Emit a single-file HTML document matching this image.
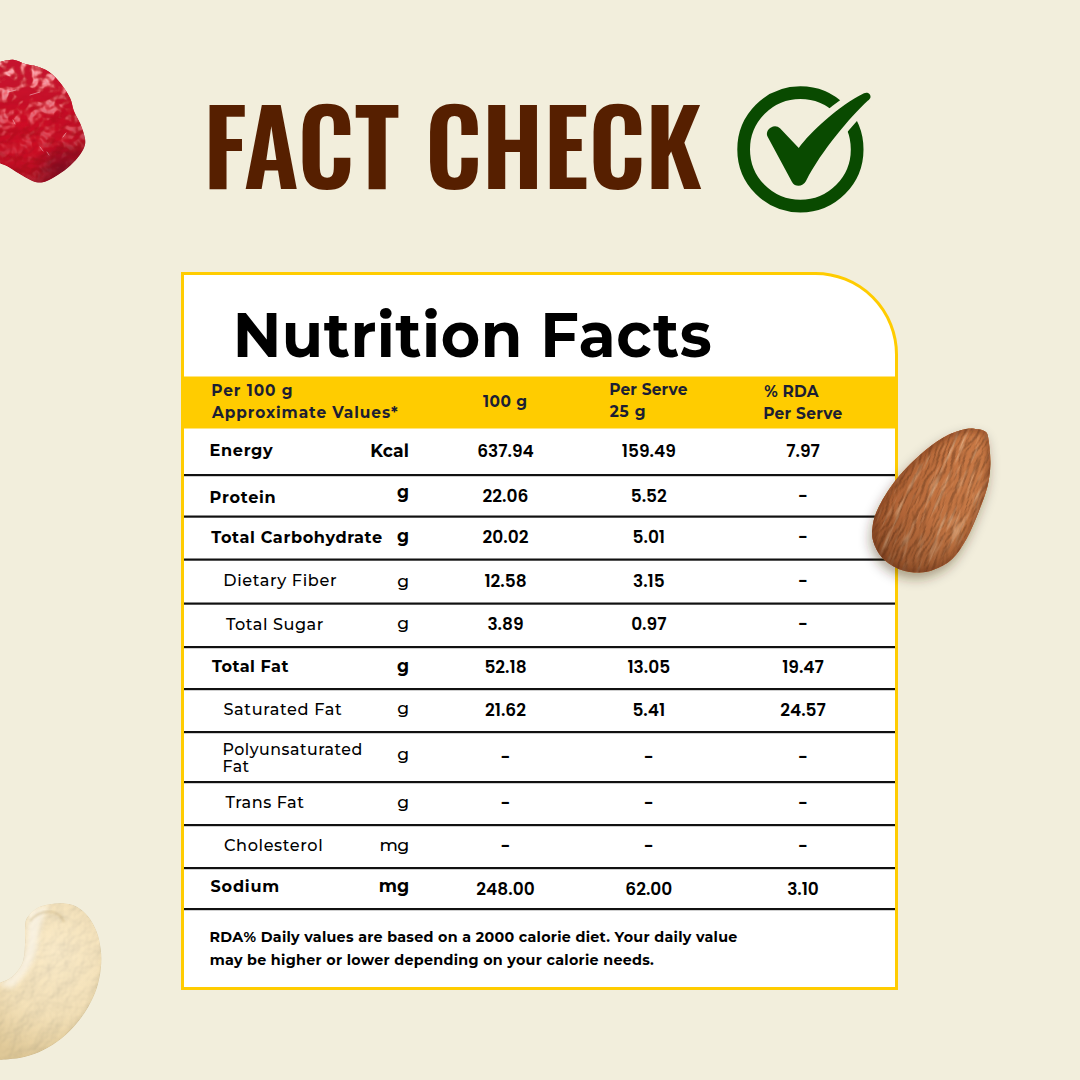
<!DOCTYPE html>
<html lang="en"><head><meta charset="utf-8"><title>Fact Check - Nutrition Facts</title>
<style>
html,body{margin:0;padding:0;background:#F2EEDC;}
body{width:1080px;height:1080px;overflow:hidden;position:relative;}
svg{position:absolute;left:0;top:0;display:block;}
text{font-kerning:normal;}
</style></head><body>
<svg width="1080" height="1080" viewBox="0 0 1080 1080">
<rect x="0" y="0" width="1080" height="1080" fill="#F2EEDC"/>
<text id="title" x="203.30" y="189" font-family="Oswald, 'Liberation Sans Narrow', 'Liberation Sans', sans-serif" font-size="103" font-weight="600" fill="#561F00" text-anchor="start" letter-spacing="-0.13" textLength="498.750" lengthAdjust="spacingAndGlyphs" style="font-size-adjust:cap-height 0.81">FACT CHECK</text>
<g id="check"><circle cx="800.4" cy="149.4" r="56.75" fill="none" stroke="#094A00" stroke-width="12.7"/>
<path d="M767.5 136.5 C766 133 767.5 129.5 771 127.5 C774 125.5 777.5 125.8 780 128.3 L798.75 148 C811 131.5 838.5 106 864 93.3 C867.5 91.6 871 94.2 870.5 97.2 C870.2 98.6 869.2 99.6 868 100.6 C850 117.4 822 150 806 181 C803 187 795 187.5 792 182 Z" fill="#F2EEDC" stroke="#F2EEDC" stroke-width="13" stroke-linejoin="round"/>
<path d="M767.5 136.5 C766 133 767.5 129.5 771 127.5 C774 125.5 777.5 125.8 780 128.3 L798.75 148 C811 131.5 838.5 106 864 93.3 C867.5 91.6 871 94.2 870.5 97.2 C870.2 98.6 869.2 99.6 868 100.6 C850 117.4 822 150 806 181 C803 187 795 187.5 792 182 Z" fill="#094A00"/></g>
<defs>
<radialGradient id="gCran" gradientUnits="userSpaceOnUse" cx="28" cy="118" r="78">
 <stop offset="0" stop-color="#D01022"/><stop offset="0.6" stop-color="#BC0B20"/><stop offset="1" stop-color="#86061A"/>
</radialGradient>
<linearGradient id="gCranHi" gradientUnits="userSpaceOnUse" x1="0" y1="58" x2="0" y2="118">
 <stop offset="0" stop-color="#EE6E78" stop-opacity="0.85"/><stop offset="0.55" stop-color="#E03A48" stop-opacity="0.5"/><stop offset="1" stop-color="#D01022" stop-opacity="0"/>
</linearGradient>
<radialGradient id="gCranDk" gradientUnits="userSpaceOnUse" cx="62" cy="170" r="30">
 <stop offset="0" stop-color="#5A0820" stop-opacity="0.55"/><stop offset="1" stop-color="#5A0820" stop-opacity="0"/>
</radialGradient>
<radialGradient id="gAlm" gradientUnits="userSpaceOnUse" cx="950" cy="475" r="105">
 <stop offset="0" stop-color="#BE6F38"/><stop offset="0.55" stop-color="#AD5E2A"/><stop offset="1" stop-color="#84421C"/>
</radialGradient>
<linearGradient id="gAlmFlat" gradientUnits="userSpaceOnUse" x1="870" y1="0" x2="995" y2="0">
 <stop offset="0" stop-color="#A2582D"/><stop offset="0.5" stop-color="#BA6E3E"/><stop offset="1" stop-color="#C27846"/>
</linearGradient>
<linearGradient id="gAlmShade" gradientUnits="userSpaceOnUse" x1="975" y1="435" x2="905" y2="575">
 <stop offset="0" stop-color="#5A2A10" stop-opacity="0"/><stop offset="0.6" stop-color="#5A2A10" stop-opacity="0.08"/><stop offset="1" stop-color="#4A200A" stop-opacity="0.45"/>
</linearGradient>
<radialGradient id="gCash" gradientUnits="userSpaceOnUse" cx="55" cy="950" r="110">
 <stop offset="0" stop-color="#F1E5C8"/><stop offset="0.6" stop-color="#EADBB7"/><stop offset="1" stop-color="#D8C599"/>
</radialGradient>
<filter id="fShadow" x="-30%" y="-30%" width="160%" height="160%">
 <feDropShadow dx="-2" dy="6" stdDeviation="6" flood-color="#3a2a10" flood-opacity="0.4"/>
</filter>
<filter id="fTexA" x="-10%" y="-10%" width="120%" height="120%">
 <feTurbulence type="fractalNoise" baseFrequency="0.22 0.03" numOctaves="3" seed="4" result="n"/>
 <feColorMatrix in="n" type="matrix" values="0 0 0 0 0.86  0 0 0 0 0.58  0 0 0 0 0.36  0 0 0 2.4 -1.25" result="c"/>
 <feComposite in="c" in2="SourceGraphic" operator="in"/>
</filter>
<filter id="fTexAd" x="-10%" y="-10%" width="120%" height="120%">
 <feTurbulence type="fractalNoise" baseFrequency="0.2 0.035" numOctaves="3" seed="9" result="n"/>
 <feColorMatrix in="n" type="matrix" values="0 0 0 0 0.45  0 0 0 0 0.2  0 0 0 0 0.08  0 0 0 3.2 -1.35" result="c"/>
 <feComposite in="c" in2="SourceGraphic" operator="in"/>
</filter>
<filter id="fTexC" x="-10%" y="-10%" width="120%" height="120%">
 <feTurbulence type="fractalNoise" baseFrequency="0.16" numOctaves="3" seed="7" result="n"/>
 <feColorMatrix in="n" type="matrix" values="0 0 0 0 0.80  0 0 0 0 0.70  0 0 0 0 0.48  0 0 0 2.0 -0.95" result="c"/>
 <feComposite in="c" in2="SourceGraphic" operator="in"/>
</filter>
<filter id="fTexR" x="-10%" y="-10%" width="120%" height="120%">
 <feTurbulence type="fractalNoise" baseFrequency="0.09" numOctaves="2" seed="11" result="n"/>
 <feColorMatrix in="n" type="matrix" values="0 0 0 0 0.62  0 0 0 0 0.03  0 0 0 0 0.10  0 0 0 2.0 -0.95" result="c"/>
 <feComposite in="c" in2="SourceGraphic" operator="in"/>
</filter>
<filter id="fBumpC" x="-5%" y="-5%" width="110%" height="110%">
 <feTurbulence type="fractalNoise" baseFrequency="0.06" numOctaves="3" seed="5" result="n"/>
 <feDiffuseLighting in="n" surfaceScale="3.5" diffuseConstant="1.0" lighting-color="#FFF2DC" result="l">
  <feDistantLight azimuth="225" elevation="55"/>
 </feDiffuseLighting>
 <feComposite in="l" in2="SourceGraphic" operator="arithmetic" k1="0.34" k2="0" k3="0.76" k4="0"/>
</filter>
<filter id="fBumpA" x="-5%" y="-5%" width="110%" height="110%">
 <feTurbulence type="fractalNoise" baseFrequency="0.3 0.045" numOctaves="3" seed="8" result="n0"/>
 <feTurbulence type="fractalNoise" baseFrequency="0.035" numOctaves="1" seed="2" result="w"/>
 <feDisplacementMap in="n0" in2="w" scale="14" xChannelSelector="R" yChannelSelector="G" result="n"/>
 <feDiffuseLighting in="n" surfaceScale="5" diffuseConstant="1.1" lighting-color="#fff" result="l">
  <feDistantLight azimuth="0" elevation="45"/>
 </feDiffuseLighting>
 <feComposite in="l" in2="SourceGraphic" operator="arithmetic" k1="0.5" k2="0" k3="0.66" k4="0"/>
</filter>
<filter id="fBumpR" x="-5%" y="-5%" width="110%" height="110%">
 <feTurbulence type="fractalNoise" baseFrequency="0.06" numOctaves="3" seed="12" result="n"/>
 <feDiffuseLighting in="n" surfaceScale="6" diffuseConstant="1.0" lighting-color="#fff" result="l">
  <feDistantLight azimuth="250" elevation="50"/>
 </feDiffuseLighting>
 <feComposite in="l" in2="SourceGraphic" operator="arithmetic" k1="0.4" k2="0" k3="0.72" k4="0"/>
</filter>
<filter id="fCranSpec" x="-5%" y="-5%" width="110%" height="110%">
 <feTurbulence type="fractalNoise" baseFrequency="0.042" numOctaves="3" seed="21" result="n"/>
 <feSpecularLighting in="n" surfaceScale="8" specularConstant="1.2" specularExponent="22" lighting-color="#FFD2D6" result="s">
  <feDistantLight azimuth="235" elevation="35"/>
 </feSpecularLighting>
 <feComposite in="s" in2="SourceAlpha" operator="in" result="s2"/>
 <feComposite in="s2" in2="SourceGraphic" operator="arithmetic" k1="0" k2="0.75" k3="1" k4="0"/>
</filter>
<linearGradient id="gCranMask" gradientUnits="userSpaceOnUse" x1="0" y1="60" x2="0" y2="185">
 <stop offset="0" stop-color="#fff" stop-opacity="1"/><stop offset="0.4" stop-color="#fff" stop-opacity="0.6"/><stop offset="0.7" stop-color="#fff" stop-opacity="0.2"/><stop offset="1" stop-color="#fff" stop-opacity="0.1"/>
</linearGradient>
<mask id="mCran" maskUnits="userSpaceOnUse" x="-30" y="40" width="150" height="160"><rect x="-30" y="40" width="150" height="160" fill="url(#gCranMask)"/></mask>
<filter id="fBlur1"><feGaussianBlur stdDeviation="1.2"/></filter>
<filter id="fBlur2"><feGaussianBlur stdDeviation="2.5"/></filter>
<clipPath id="cpCran"><path d="M-20 62.5 L-2.0 62.5 C0.5 62.0 8.4 59.4 13.0 59.7 C17.6 60.0 22.0 63.2 25.9 64.3 C29.8 65.4 32.4 64.9 36.3 66.2 C40.2 67.5 45.1 69.1 49.2 72.0 C53.3 74.9 57.4 79.4 60.9 83.7 C64.4 88.0 67.8 93.5 70.0 98.0 C72.2 102.5 72.2 106.6 73.9 110.9 C75.6 115.2 78.6 119.4 80.4 123.9 C82.2 128.4 84.3 134.2 84.9 138.1 C85.5 142.0 85.4 143.9 84.2 147.2 C83.0 150.4 80.6 154.1 77.8 157.6 C75.0 161.1 71.3 164.8 67.4 168.0 C63.5 171.2 58.5 174.6 54.4 177.0 C50.3 179.4 46.5 181.5 42.8 182.2 C39.1 182.8 36.5 182.4 32.4 180.9 C28.3 179.4 22.2 175.5 18.1 173.1 C14.0 170.7 11.2 168.4 7.8 166.6 C4.4 164.8 -0.4 163.2 -2.0 162.5 L-20 162.5 Z"/></clipPath>
<clipPath id="cpCash"><path d="M-20 983.6 L-2.0 983.6 C0.0 982.7 6.6 980.6 10.0 978.3 C13.4 976.0 16.1 973.0 18.3 970.0 C20.5 967.0 22.2 964.2 23.3 960.0 C24.4 955.8 24.7 949.7 25.0 945.0 C25.3 940.3 24.9 935.6 25.0 931.7 C25.1 927.8 24.8 924.5 25.5 921.7 C26.2 918.9 27.1 917.4 29.2 915.0 C31.3 912.6 34.8 909.3 38.3 907.5 C41.8 905.7 45.8 904.9 50.0 904.2 C54.2 903.5 58.8 902.9 63.3 903.3 C67.8 903.7 72.5 904.5 76.7 906.7 C80.9 908.9 85.0 912.5 88.3 916.7 C91.6 920.9 94.6 926.2 96.7 931.7 C98.8 937.2 100.1 943.9 100.8 950.0 C101.5 956.1 101.5 961.9 100.8 968.3 C100.1 974.7 98.8 981.9 96.7 988.3 C94.6 994.7 91.6 1000.9 88.3 1006.7 C85.0 1012.5 81.1 1018.0 76.7 1023.3 C72.3 1028.6 67.3 1033.8 61.7 1038.3 C56.1 1042.8 49.4 1046.9 43.3 1050.0 C37.2 1053.1 30.8 1055.2 25.0 1056.7 C19.2 1058.2 12.8 1058.7 8.3 1059.2 C3.8 1059.7 -0.3 1059.7 -2.0 1059.8 L-20 1059.8 Z"/></clipPath>
<clipPath id="cpAlm"><path d="M975.6 428.9 C979.3 429.3 983.7 429.7 985.9 431.9 C988.1 434.1 988.1 436.8 988.9 442.2 C989.6 447.6 990.6 457.0 990.4 464.4 C990.1 471.8 989.4 478.8 987.4 486.7 C985.4 494.6 982.0 503.3 978.5 511.9 C975.0 520.5 971.1 530.6 966.7 538.5 C962.3 546.4 957.3 554.1 951.9 559.3 C946.5 564.5 939.5 567.4 934.1 569.6 C928.7 571.8 925.0 572.6 919.3 572.6 C913.6 572.6 906.2 572.1 900.0 569.6 C893.8 567.1 886.7 562.5 882.2 557.8 C877.8 553.1 874.9 546.7 873.3 541.5 C871.7 536.3 871.9 532.1 872.6 526.7 C873.4 521.3 874.2 516.3 877.8 508.9 C881.4 501.5 887.2 491.1 894.1 482.2 C901.0 473.3 911.1 463.0 919.3 455.6 C927.4 448.2 935.6 442.1 943.0 437.8 C950.4 433.5 958.3 431.1 963.7 429.6 C969.1 428.1 971.9 428.5 975.6 428.9 Z"/></clipPath>
</defs>
<path d="M-20 62.5 L-2.0 62.5 C0.5 62.0 8.4 59.4 13.0 59.7 C17.6 60.0 22.0 63.2 25.9 64.3 C29.8 65.4 32.4 64.9 36.3 66.2 C40.2 67.5 45.1 69.1 49.2 72.0 C53.3 74.9 57.4 79.4 60.9 83.7 C64.4 88.0 67.8 93.5 70.0 98.0 C72.2 102.5 72.2 106.6 73.9 110.9 C75.6 115.2 78.6 119.4 80.4 123.9 C82.2 128.4 84.3 134.2 84.9 138.1 C85.5 142.0 85.4 143.9 84.2 147.2 C83.0 150.4 80.6 154.1 77.8 157.6 C75.0 161.1 71.3 164.8 67.4 168.0 C63.5 171.2 58.5 174.6 54.4 177.0 C50.3 179.4 46.5 181.5 42.8 182.2 C39.1 182.8 36.5 182.4 32.4 180.9 C28.3 179.4 22.2 175.5 18.1 173.1 C14.0 170.7 11.2 168.4 7.8 166.6 C4.4 164.8 -0.4 163.2 -2.0 162.5 L-20 162.5 Z" fill="url(#gCran)" filter="url(#fBumpR)"/>
<g clip-path="url(#cpCran)">
<path d="M-6.0 58.0 C-1.7 48.0 11.5 56.3 20.0 58.0 C28.5 59.7 37.3 63.0 45.0 68.0 C52.7 73.0 61.2 81.3 66.0 88.0 C70.8 94.7 75.0 103.3 74.0 108.0 C73.0 112.7 65.7 115.3 60.0 116.0 C54.3 116.7 46.7 112.3 40.0 112.0 C33.3 111.7 27.7 113.0 20.0 114.0 C12.3 115.0 -1.7 127.3 -6.0 118.0 C-10.3 108.7 -10.3 68.0 -6.0 58.0 Z" fill="url(#gCranHi)" opacity="0.8" filter="url(#fBlur2)"/>
<g mask="url(#mCran)"><rect x="-5" y="55" width="100" height="135" fill="#C4102A" filter="url(#fCranSpec)" opacity="0.9"/></g>
<g stroke="#FCE4E8" stroke-width="0.9" fill="none" opacity="0.55" stroke-linecap="round"><path d="M13 120 L15 124"/><path d="M40 147 L43 151"/><path d="M47 152 L49 155"/><path d="M63 137 L66 133"/><path d="M30 95 L40 92"/><path d="M8 92 L16 90"/></g>
<rect x="0" y="120" width="100" height="70" fill="url(#gCranDk)"/>
</g>

<path d="M-20 983.6 L-2.0 983.6 C0.0 982.7 6.6 980.6 10.0 978.3 C13.4 976.0 16.1 973.0 18.3 970.0 C20.5 967.0 22.2 964.2 23.3 960.0 C24.4 955.8 24.7 949.7 25.0 945.0 C25.3 940.3 24.9 935.6 25.0 931.7 C25.1 927.8 24.8 924.5 25.5 921.7 C26.2 918.9 27.1 917.4 29.2 915.0 C31.3 912.6 34.8 909.3 38.3 907.5 C41.8 905.7 45.8 904.9 50.0 904.2 C54.2 903.5 58.8 902.9 63.3 903.3 C67.8 903.7 72.5 904.5 76.7 906.7 C80.9 908.9 85.0 912.5 88.3 916.7 C91.6 920.9 94.6 926.2 96.7 931.7 C98.8 937.2 100.1 943.9 100.8 950.0 C101.5 956.1 101.5 961.9 100.8 968.3 C100.1 974.7 98.8 981.9 96.7 988.3 C94.6 994.7 91.6 1000.9 88.3 1006.7 C85.0 1012.5 81.1 1018.0 76.7 1023.3 C72.3 1028.6 67.3 1033.8 61.7 1038.3 C56.1 1042.8 49.4 1046.9 43.3 1050.0 C37.2 1053.1 30.8 1055.2 25.0 1056.7 C19.2 1058.2 12.8 1058.7 8.3 1059.2 C3.8 1059.7 -0.3 1059.7 -2.0 1059.8 L-20 1059.8 Z" fill="url(#gCash)" filter="url(#fBumpC)"/>
<g clip-path="url(#cpCash)">
<path d="M-2 985 C12 978 22 966 26 948 C28 935 26 922 30 914 C36 908 44 905 50 905 C44 912 40 925 38 940 C36 958 28 975 12 988 Z" fill="#FBF6EA" opacity="0.75" filter="url(#fBlur2)"/>
<path d="M30 921 C36 914 44 911 52 912 C58 913 62 917 64 922" fill="none" stroke="#C8B283" stroke-width="1.6" opacity="0.7" filter="url(#fBlur1)"/>
<path d="M27 912 C30 906 36 903 42 904 C38 908 33 912 30 918 Z" fill="#FBF5E6" opacity="0.7" filter="url(#fBlur1)"/>
<path d="M104 950 C104 990 85 1025 55 1045 C35 1058 10 1062 -5 1062 L-5 1075 L120 1075 L120 940 Z" fill="#C9B27E" opacity="0.55" filter="url(#fBlur2)"/>
</g>

<path d="M182.5 273.5 H815.5 A81 81 0 0 1 896.5 354.5 V988.5 H182.5 Z" fill="#fff" stroke="#FFCC00" stroke-width="3"/>
<rect x="184" y="376.5" width="711" height="52" fill="#FFCC00"/>
<text id="nf" x="232.65" y="356.9" font-family="Montserrat, 'Liberation Sans', sans-serif" font-size="61" font-weight="700" fill="#000" text-anchor="start" letter-spacing="0.52" transform="matrix(1 0 0 1.026 0 -9.279)" textLength="479.492" lengthAdjust="spacingAndGlyphs" style="font-size-adjust:cap-height 0.7">Nutrition Facts</text>
<text id="h_per100" x="211.23" y="396.4" font-family="Montserrat, 'Liberation Sans', sans-serif" font-size="15.4" font-weight="700" fill="#1C1E33" text-anchor="start" letter-spacing="0.92" textLength="82.141" lengthAdjust="spacingAndGlyphs" style="font-size-adjust:cap-height 0.7">Per 100 g</text>
<text id="h_approx" x="212.09" y="417.7" font-family="Montserrat, 'Liberation Sans', sans-serif" font-size="15.4" font-weight="700" fill="#1C1E33" text-anchor="start" letter-spacing="0.91" textLength="186.516" lengthAdjust="spacingAndGlyphs" style="font-size-adjust:cap-height 0.7">Approximate Values*</text>
<text id="h_100g" x="483.07" y="406.8" font-family="Montserrat, 'Liberation Sans', sans-serif" font-size="15.4" font-weight="700" fill="#1C1E33" text-anchor="start" letter-spacing="0.45" textLength="44.328" lengthAdjust="spacingAndGlyphs" style="font-size-adjust:cap-height 0.7">100 g</text>
<text id="h_ps1" x="609.13" y="394.8" font-family="Montserrat, 'Liberation Sans', sans-serif" font-size="15.4" font-weight="700" fill="#1C1E33" text-anchor="start" letter-spacing="0.18" textLength="78.500" lengthAdjust="spacingAndGlyphs" style="font-size-adjust:cap-height 0.7">Per Serve</text>
<text id="h_25g" x="609.64" y="417.0" font-family="Montserrat, 'Liberation Sans', sans-serif" font-size="15.4" font-weight="700" fill="#1C1E33" text-anchor="start" letter-spacing="0.86" textLength="36.812" lengthAdjust="spacingAndGlyphs" style="font-size-adjust:cap-height 0.7">25 g</text>
<text id="h_rda" x="764.14" y="396.8" font-family="Montserrat, 'Liberation Sans', sans-serif" font-size="15.4" font-weight="700" fill="#1C1E33" text-anchor="start" letter-spacing="0.20" textLength="54.516" lengthAdjust="spacingAndGlyphs" style="font-size-adjust:cap-height 0.7">% RDA</text>
<text id="h_ps2" x="763.19" y="419.4" font-family="Montserrat, 'Liberation Sans', sans-serif" font-size="15.4" font-weight="700" fill="#1C1E33" text-anchor="start" letter-spacing="0.28" textLength="79.406" lengthAdjust="spacingAndGlyphs" style="font-size-adjust:cap-height 0.7">Per Serve</text>
<rect x="184" y="474" width="711" height="2.2" fill="#111"/>
<rect x="184" y="515.5" width="711" height="2.2" fill="#111"/>
<rect x="184" y="558.5" width="711" height="2.2" fill="#111"/>
<rect x="184" y="602.5" width="711" height="2.2" fill="#111"/>
<rect x="184" y="646" width="711" height="2.2" fill="#111"/>
<rect x="184" y="688" width="711" height="2.2" fill="#111"/>
<rect x="184" y="731" width="711" height="2.2" fill="#111"/>
<rect x="184" y="781" width="711" height="2.2" fill="#111"/>
<rect x="184" y="824" width="711" height="2.2" fill="#111"/>
<rect x="184" y="867" width="711" height="2.2" fill="#111"/>
<rect x="184" y="908" width="711" height="2.2" fill="#111"/>
<text id="l_energy" x="209.62" y="456.1" font-family="Montserrat, 'Liberation Sans', sans-serif" font-size="16.1" font-weight="700" fill="#000" text-anchor="start" letter-spacing="0.64" textLength="63.672" lengthAdjust="spacingAndGlyphs" style="font-size-adjust:cap-height 0.7">Energy</text>
<text id="u_energy" x="370.28" y="457.4" font-family="Montserrat, 'Liberation Sans', sans-serif" font-size="17.2" font-weight="700" fill="#000" text-anchor="start" letter-spacing="0.13" textLength="38.812" lengthAdjust="spacingAndGlyphs" style="font-size-adjust:cap-height 0.7">Kcal</text>
<text id="n_energy0" x="505.50" y="457.0" font-family="Poppins, 'Liberation Sans', sans-serif" font-size="17" font-weight="600" fill="#000" text-anchor="middle" textLength="56.641" lengthAdjust="spacingAndGlyphs" style="font-size-adjust:cap-height 0.701">637.94</text>
<text id="n_energy1" x="648.80" y="457.0" font-family="Poppins, 'Liberation Sans', sans-serif" font-size="17" font-weight="600" fill="#000" text-anchor="middle" textLength="54.000" lengthAdjust="spacingAndGlyphs" style="font-size-adjust:cap-height 0.701">159.49</text>
<text id="n_energy2" x="803.00" y="457.0" font-family="Poppins, 'Liberation Sans', sans-serif" font-size="17" font-weight="600" fill="#000" text-anchor="middle" textLength="33.672" lengthAdjust="spacingAndGlyphs" style="font-size-adjust:cap-height 0.701">7.97</text>
<text id="l_protein" x="209.62" y="502.5" font-family="Montserrat, 'Liberation Sans', sans-serif" font-size="16.1" font-weight="700" fill="#000" text-anchor="start" letter-spacing="0.72" textLength="66.859" lengthAdjust="spacingAndGlyphs" style="font-size-adjust:cap-height 0.7">Protein</text>
<text id="u_protein" x="409.00" y="498.2" font-family="Montserrat, 'Liberation Sans', sans-serif" font-size="17.2" font-weight="700" fill="#000" text-anchor="end" textLength="12.047" lengthAdjust="spacingAndGlyphs" style="font-size-adjust:cap-height 0.7">g</text>
<text id="n_protein0" x="505.50" y="501.8" font-family="Poppins, 'Liberation Sans', sans-serif" font-size="17" font-weight="600" fill="#000" text-anchor="middle" textLength="45.766" lengthAdjust="spacingAndGlyphs" style="font-size-adjust:cap-height 0.701">22.06</text>
<text id="n_protein1" x="648.80" y="501.8" font-family="Poppins, 'Liberation Sans', sans-serif" font-size="17" font-weight="600" fill="#000" text-anchor="middle" textLength="36.047" lengthAdjust="spacingAndGlyphs" style="font-size-adjust:cap-height 0.701">5.52</text>
<text id="n_protein2" x="803.00" y="501.8" font-family="Poppins, 'Liberation Sans', sans-serif" font-size="17" font-weight="600" fill="#000" text-anchor="middle" textLength="9.906" lengthAdjust="spacingAndGlyphs" style="font-size-adjust:cap-height 0.701">-</text>
<text id="l_carb" x="211.29" y="542.5" font-family="Montserrat, 'Liberation Sans', sans-serif" font-size="16.1" font-weight="700" fill="#000" text-anchor="start" letter-spacing="0.62" textLength="171.469" lengthAdjust="spacingAndGlyphs" style="font-size-adjust:cap-height 0.7">Total Carbohydrate</text>
<text id="u_carb" x="409.00" y="541.6" font-family="Montserrat, 'Liberation Sans', sans-serif" font-size="17.2" font-weight="700" fill="#000" text-anchor="end" textLength="12.047" lengthAdjust="spacingAndGlyphs" style="font-size-adjust:cap-height 0.7">g</text>
<text id="n_carb0" x="505.50" y="543.4" font-family="Poppins, 'Liberation Sans', sans-serif" font-size="17" font-weight="600" fill="#000" text-anchor="middle" textLength="45.859" lengthAdjust="spacingAndGlyphs" style="font-size-adjust:cap-height 0.701">20.02</text>
<text id="n_carb1" x="648.80" y="543.4" font-family="Poppins, 'Liberation Sans', sans-serif" font-size="17" font-weight="600" fill="#000" text-anchor="middle" textLength="32.484" lengthAdjust="spacingAndGlyphs" style="font-size-adjust:cap-height 0.701">5.01</text>
<text id="n_carb2" x="803.00" y="543.4" font-family="Poppins, 'Liberation Sans', sans-serif" font-size="17" font-weight="600" fill="#000" text-anchor="middle" textLength="9.906" lengthAdjust="spacingAndGlyphs" style="font-size-adjust:cap-height 0.701">-</text>
<text id="l_fiber" x="223.34" y="585.9" font-family="Montserrat, 'Liberation Sans', sans-serif" font-size="16.1" font-weight="500" fill="#000" text-anchor="start" letter-spacing="0.63" textLength="113.812" lengthAdjust="spacingAndGlyphs" style="font-size-adjust:cap-height 0.7">Dietary Fiber</text>
<text id="u_fiber" x="409.00" y="586.5" font-family="Montserrat, 'Liberation Sans', sans-serif" font-size="17.2" font-weight="500" fill="#000" text-anchor="end" textLength="11.875" lengthAdjust="spacingAndGlyphs" style="font-size-adjust:cap-height 0.7">g</text>
<text id="n_fiber0" x="505.50" y="587.1" font-family="Poppins, 'Liberation Sans', sans-serif" font-size="17" font-weight="600" fill="#000" text-anchor="middle" textLength="42.188" lengthAdjust="spacingAndGlyphs" style="font-size-adjust:cap-height 0.701">12.58</text>
<text id="n_fiber1" x="648.80" y="587.1" font-family="Poppins, 'Liberation Sans', sans-serif" font-size="17" font-weight="600" fill="#000" text-anchor="middle" textLength="31.688" lengthAdjust="spacingAndGlyphs" style="font-size-adjust:cap-height 0.701">3.15</text>
<text id="n_fiber2" x="803.00" y="587.1" font-family="Poppins, 'Liberation Sans', sans-serif" font-size="17" font-weight="600" fill="#000" text-anchor="middle" textLength="9.906" lengthAdjust="spacingAndGlyphs" style="font-size-adjust:cap-height 0.701">-</text>
<text id="l_sugar" x="225.90" y="630.0" font-family="Montserrat, 'Liberation Sans', sans-serif" font-size="16.1" font-weight="500" fill="#000" text-anchor="start" letter-spacing="0.57" textLength="98.062" lengthAdjust="spacingAndGlyphs" style="font-size-adjust:cap-height 0.7">Total Sugar</text>
<text id="u_sugar" x="409.00" y="629.0" font-family="Montserrat, 'Liberation Sans', sans-serif" font-size="17.2" font-weight="500" fill="#000" text-anchor="end" textLength="11.875" lengthAdjust="spacingAndGlyphs" style="font-size-adjust:cap-height 0.7">g</text>
<text id="n_sugar0" x="505.50" y="630.4" font-family="Poppins, 'Liberation Sans', sans-serif" font-size="17" font-weight="600" fill="#000" text-anchor="middle" textLength="36.156" lengthAdjust="spacingAndGlyphs" style="font-size-adjust:cap-height 0.701">3.89</text>
<text id="n_sugar1" x="648.80" y="630.4" font-family="Poppins, 'Liberation Sans', sans-serif" font-size="17" font-weight="600" fill="#000" text-anchor="middle" textLength="35.328" lengthAdjust="spacingAndGlyphs" style="font-size-adjust:cap-height 0.701">0.97</text>
<text id="n_sugar2" x="803.00" y="630.4" font-family="Poppins, 'Liberation Sans', sans-serif" font-size="17" font-weight="600" fill="#000" text-anchor="middle" textLength="9.906" lengthAdjust="spacingAndGlyphs" style="font-size-adjust:cap-height 0.701">-</text>
<text id="l_tfat" x="211.89" y="672.0" font-family="Montserrat, 'Liberation Sans', sans-serif" font-size="16.1" font-weight="700" fill="#000" text-anchor="start" letter-spacing="0.49" textLength="77.031" lengthAdjust="spacingAndGlyphs" style="font-size-adjust:cap-height 0.7">Total Fat</text>
<text id="u_tfat" x="409.00" y="672.0" font-family="Montserrat, 'Liberation Sans', sans-serif" font-size="17.2" font-weight="700" fill="#000" text-anchor="end" textLength="12.047" lengthAdjust="spacingAndGlyphs" style="font-size-adjust:cap-height 0.7">g</text>
<text id="n_tfat0" x="505.50" y="673.2" font-family="Poppins, 'Liberation Sans', sans-serif" font-size="17" font-weight="600" fill="#000" text-anchor="middle" textLength="42.188" lengthAdjust="spacingAndGlyphs" style="font-size-adjust:cap-height 0.701">52.18</text>
<text id="n_tfat1" x="648.80" y="673.2" font-family="Poppins, 'Liberation Sans', sans-serif" font-size="17" font-weight="600" fill="#000" text-anchor="middle" textLength="42.656" lengthAdjust="spacingAndGlyphs" style="font-size-adjust:cap-height 0.701">13.05</text>
<text id="n_tfat2" x="803.00" y="673.2" font-family="Poppins, 'Liberation Sans', sans-serif" font-size="17" font-weight="600" fill="#000" text-anchor="middle" textLength="41.734" lengthAdjust="spacingAndGlyphs" style="font-size-adjust:cap-height 0.701">19.47</text>
<text id="l_sfat" x="223.46" y="714.8" font-family="Montserrat, 'Liberation Sans', sans-serif" font-size="16.1" font-weight="500" fill="#000" text-anchor="start" letter-spacing="0.65" textLength="118.875" lengthAdjust="spacingAndGlyphs" style="font-size-adjust:cap-height 0.7">Saturated Fat</text>
<text id="u_sfat" x="409.00" y="714.0" font-family="Montserrat, 'Liberation Sans', sans-serif" font-size="17.2" font-weight="500" fill="#000" text-anchor="end" textLength="11.875" lengthAdjust="spacingAndGlyphs" style="font-size-adjust:cap-height 0.7">g</text>
<text id="n_sfat0" x="505.50" y="715.8" font-family="Poppins, 'Liberation Sans', sans-serif" font-size="17" font-weight="600" fill="#000" text-anchor="middle" textLength="40.938" lengthAdjust="spacingAndGlyphs" style="font-size-adjust:cap-height 0.701">21.62</text>
<text id="n_sfat1" x="648.80" y="715.8" font-family="Poppins, 'Liberation Sans', sans-serif" font-size="17" font-weight="600" fill="#000" text-anchor="middle" textLength="32.734" lengthAdjust="spacingAndGlyphs" style="font-size-adjust:cap-height 0.701">5.41</text>
<text id="n_sfat2" x="803.00" y="715.8" font-family="Poppins, 'Liberation Sans', sans-serif" font-size="17" font-weight="600" fill="#000" text-anchor="middle" textLength="45.641" lengthAdjust="spacingAndGlyphs" style="font-size-adjust:cap-height 0.701">24.57</text>
<text id="l_poly0" x="222.56" y="754.9" font-family="Montserrat, 'Liberation Sans', sans-serif" font-size="15.8" font-weight="500" fill="#000" text-anchor="start" letter-spacing="0.53" textLength="140.250" lengthAdjust="spacingAndGlyphs" style="font-size-adjust:cap-height 0.7">Polyunsaturated</text>
<text id="l_poly1" x="222.56" y="771.9" font-family="Montserrat, 'Liberation Sans', sans-serif" font-size="15.8" font-weight="500" fill="#000" text-anchor="start" letter-spacing="0.39" textLength="26.875" lengthAdjust="spacingAndGlyphs" style="font-size-adjust:cap-height 0.7">Fat</text>
<text id="u_poly" x="409.00" y="759.8" font-family="Montserrat, 'Liberation Sans', sans-serif" font-size="17.2" font-weight="500" fill="#000" text-anchor="end" textLength="11.875" lengthAdjust="spacingAndGlyphs" style="font-size-adjust:cap-height 0.7">g</text>
<text id="n_poly0" x="505.50" y="762.5" font-family="Poppins, 'Liberation Sans', sans-serif" font-size="17" font-weight="600" fill="#000" text-anchor="middle" textLength="9.906" lengthAdjust="spacingAndGlyphs" style="font-size-adjust:cap-height 0.701">-</text>
<text id="n_poly1" x="648.80" y="762.5" font-family="Poppins, 'Liberation Sans', sans-serif" font-size="17" font-weight="600" fill="#000" text-anchor="middle" textLength="9.906" lengthAdjust="spacingAndGlyphs" style="font-size-adjust:cap-height 0.701">-</text>
<text id="n_poly2" x="803.00" y="762.5" font-family="Poppins, 'Liberation Sans', sans-serif" font-size="17" font-weight="600" fill="#000" text-anchor="middle" textLength="9.906" lengthAdjust="spacingAndGlyphs" style="font-size-adjust:cap-height 0.701">-</text>
<text id="l_trans" x="225.40" y="808.1" font-family="Montserrat, 'Liberation Sans', sans-serif" font-size="16.1" font-weight="500" fill="#000" text-anchor="start" letter-spacing="0.53" textLength="79.078" lengthAdjust="spacingAndGlyphs" style="font-size-adjust:cap-height 0.7">Trans Fat</text>
<text id="u_trans" x="409.00" y="807.5" font-family="Montserrat, 'Liberation Sans', sans-serif" font-size="17.2" font-weight="500" fill="#000" text-anchor="end" textLength="11.875" lengthAdjust="spacingAndGlyphs" style="font-size-adjust:cap-height 0.7">g</text>
<text id="n_trans0" x="505.50" y="808.9" font-family="Poppins, 'Liberation Sans', sans-serif" font-size="17" font-weight="600" fill="#000" text-anchor="middle" textLength="9.906" lengthAdjust="spacingAndGlyphs" style="font-size-adjust:cap-height 0.701">-</text>
<text id="n_trans1" x="648.80" y="808.9" font-family="Poppins, 'Liberation Sans', sans-serif" font-size="17" font-weight="600" fill="#000" text-anchor="middle" textLength="9.906" lengthAdjust="spacingAndGlyphs" style="font-size-adjust:cap-height 0.701">-</text>
<text id="n_trans2" x="803.00" y="808.9" font-family="Poppins, 'Liberation Sans', sans-serif" font-size="17" font-weight="600" fill="#000" text-anchor="middle" textLength="9.906" lengthAdjust="spacingAndGlyphs" style="font-size-adjust:cap-height 0.701">-</text>
<text id="l_chol" x="223.93" y="850.8" font-family="Montserrat, 'Liberation Sans', sans-serif" font-size="16.1" font-weight="500" fill="#000" text-anchor="start" letter-spacing="0.64" textLength="99.438" lengthAdjust="spacingAndGlyphs" style="font-size-adjust:cap-height 0.7">Cholesterol</text>
<text id="u_chol" x="379.46" y="850.8" font-family="Montserrat, 'Liberation Sans', sans-serif" font-size="17.4" font-weight="500" fill="#000" text-anchor="start" letter-spacing="-0.52" textLength="29.328" lengthAdjust="spacingAndGlyphs" style="font-size-adjust:cap-height 0.7">mg</text>
<text id="n_chol0" x="505.50" y="851.5" font-family="Poppins, 'Liberation Sans', sans-serif" font-size="17" font-weight="600" fill="#000" text-anchor="middle" textLength="9.906" lengthAdjust="spacingAndGlyphs" style="font-size-adjust:cap-height 0.701">-</text>
<text id="n_chol1" x="648.80" y="851.5" font-family="Poppins, 'Liberation Sans', sans-serif" font-size="17" font-weight="600" fill="#000" text-anchor="middle" textLength="9.906" lengthAdjust="spacingAndGlyphs" style="font-size-adjust:cap-height 0.701">-</text>
<text id="n_chol2" x="803.00" y="851.5" font-family="Poppins, 'Liberation Sans', sans-serif" font-size="17" font-weight="600" fill="#000" text-anchor="middle" textLength="9.906" lengthAdjust="spacingAndGlyphs" style="font-size-adjust:cap-height 0.701">-</text>
<text id="l_sodium" x="210.54" y="892.2" font-family="Montserrat, 'Liberation Sans', sans-serif" font-size="16.1" font-weight="700" fill="#000" text-anchor="start" letter-spacing="0.77" textLength="69.359" lengthAdjust="spacingAndGlyphs" style="font-size-adjust:cap-height 0.7">Sodium</text>
<text id="u_sodium" x="378.69" y="891.6" font-family="Montserrat, 'Liberation Sans', sans-serif" font-size="17.4" font-weight="700" fill="#000" text-anchor="start" letter-spacing="0.12" textLength="30.703" lengthAdjust="spacingAndGlyphs" style="font-size-adjust:cap-height 0.7">mg</text>
<text id="n_sodium0" x="505.50" y="894.8" font-family="Poppins, 'Liberation Sans', sans-serif" font-size="17" font-weight="600" fill="#000" text-anchor="middle" textLength="58.266" lengthAdjust="spacingAndGlyphs" style="font-size-adjust:cap-height 0.701">248.00</text>
<text id="n_sodium1" x="648.80" y="894.8" font-family="Poppins, 'Liberation Sans', sans-serif" font-size="17" font-weight="600" fill="#000" text-anchor="middle" textLength="46.984" lengthAdjust="spacingAndGlyphs" style="font-size-adjust:cap-height 0.701">62.00</text>
<text id="n_sodium2" x="803.00" y="894.8" font-family="Poppins, 'Liberation Sans', sans-serif" font-size="17" font-weight="600" fill="#000" text-anchor="middle" textLength="31.719" lengthAdjust="spacingAndGlyphs" style="font-size-adjust:cap-height 0.701">3.10</text>
<text id="foot1" x="209.55" y="941.7" font-family="Montserrat, 'Liberation Sans', sans-serif" font-size="14.3" font-weight="700" fill="#000" text-anchor="start" letter-spacing="0.29" textLength="528.016" lengthAdjust="spacingAndGlyphs" style="font-size-adjust:cap-height 0.7">RDA% Daily values are based on a 2000 calorie diet. Your daily value</text>
<text id="foot2" x="209.64" y="965.3" font-family="Montserrat, 'Liberation Sans', sans-serif" font-size="14.3" font-weight="700" fill="#000" text-anchor="start" letter-spacing="0.29" textLength="444.531" lengthAdjust="spacingAndGlyphs" style="font-size-adjust:cap-height 0.7">may be higher or lower depending on your calorie needs.</text>
<g filter="url(#fShadow)"><path d="M975.6 428.9 C979.3 429.3 983.7 429.7 985.9 431.9 C988.1 434.1 988.1 436.8 988.9 442.2 C989.6 447.6 990.6 457.0 990.4 464.4 C990.1 471.8 989.4 478.8 987.4 486.7 C985.4 494.6 982.0 503.3 978.5 511.9 C975.0 520.5 971.1 530.6 966.7 538.5 C962.3 546.4 957.3 554.1 951.9 559.3 C946.5 564.5 939.5 567.4 934.1 569.6 C928.7 571.8 925.0 572.6 919.3 572.6 C913.6 572.6 906.2 572.1 900.0 569.6 C893.8 567.1 886.7 562.5 882.2 557.8 C877.8 553.1 874.9 546.7 873.3 541.5 C871.7 536.3 871.9 532.1 872.6 526.7 C873.4 521.3 874.2 516.3 877.8 508.9 C881.4 501.5 887.2 491.1 894.1 482.2 C901.0 473.3 911.1 463.0 919.3 455.6 C927.4 448.2 935.6 442.1 943.0 437.8 C950.4 433.5 958.3 431.1 963.7 429.6 C969.1 428.1 971.9 428.5 975.6 428.9 Z" fill="url(#gAlm)"/></g>
<g clip-path="url(#cpAlm)">
<g transform="rotate(23 931 500)"><rect x="850" y="400" width="170" height="200" fill="url(#gAlmFlat)" filter="url(#fBumpA)"/><rect x="860" y="410" width="150" height="180" fill="#fff" filter="url(#fTexA)" opacity="0.8"/></g>
<path d="M975.6 428.9 C979.3 429.3 983.7 429.7 985.9 431.9 C988.1 434.1 988.1 436.8 988.9 442.2 C989.6 447.6 990.6 457.0 990.4 464.4 C990.1 471.8 989.4 478.8 987.4 486.7 C985.4 494.6 982.0 503.3 978.5 511.9 C975.0 520.5 971.1 530.6 966.7 538.5 C962.3 546.4 957.3 554.1 951.9 559.3 C946.5 564.5 939.5 567.4 934.1 569.6 C928.7 571.8 925.0 572.6 919.3 572.6 C913.6 572.6 906.2 572.1 900.0 569.6 C893.8 567.1 886.7 562.5 882.2 557.8 C877.8 553.1 874.9 546.7 873.3 541.5 C871.7 536.3 871.9 532.1 872.6 526.7 C873.4 521.3 874.2 516.3 877.8 508.9 C881.4 501.5 887.2 491.1 894.1 482.2 C901.0 473.3 911.1 463.0 919.3 455.6 C927.4 448.2 935.6 442.1 943.0 437.8 C950.4 433.5 958.3 431.1 963.7 429.6 C969.1 428.1 971.9 428.5 975.6 428.9 Z" fill="url(#gAlmShade)"/>
<path d="M975.6 428.9 C979.3 429.3 983.7 429.7 985.9 431.9 C988.1 434.1 988.1 436.8 988.9 442.2 C989.6 447.6 990.6 457.0 990.4 464.4 C990.1 471.8 989.4 478.8 987.4 486.7 C985.4 494.6 982.0 503.3 978.5 511.9 C975.0 520.5 971.1 530.6 966.7 538.5 C962.3 546.4 957.3 554.1 951.9 559.3 C946.5 564.5 939.5 567.4 934.1 569.6 C928.7 571.8 925.0 572.6 919.3 572.6 C913.6 572.6 906.2 572.1 900.0 569.6 C893.8 567.1 886.7 562.5 882.2 557.8 C877.8 553.1 874.9 546.7 873.3 541.5 C871.7 536.3 871.9 532.1 872.6 526.7 C873.4 521.3 874.2 516.3 877.8 508.9 C881.4 501.5 887.2 491.1 894.1 482.2 C901.0 473.3 911.1 463.0 919.3 455.6 C927.4 448.2 935.6 442.1 943.0 437.8 C950.4 433.5 958.3 431.1 963.7 429.6 C969.1 428.1 971.9 428.5 975.6 428.9 Z" fill="none" stroke="#6A3214" stroke-width="8" opacity="0.4" filter="url(#fBlur2)"/>
</g>

</svg>
</body></html>
